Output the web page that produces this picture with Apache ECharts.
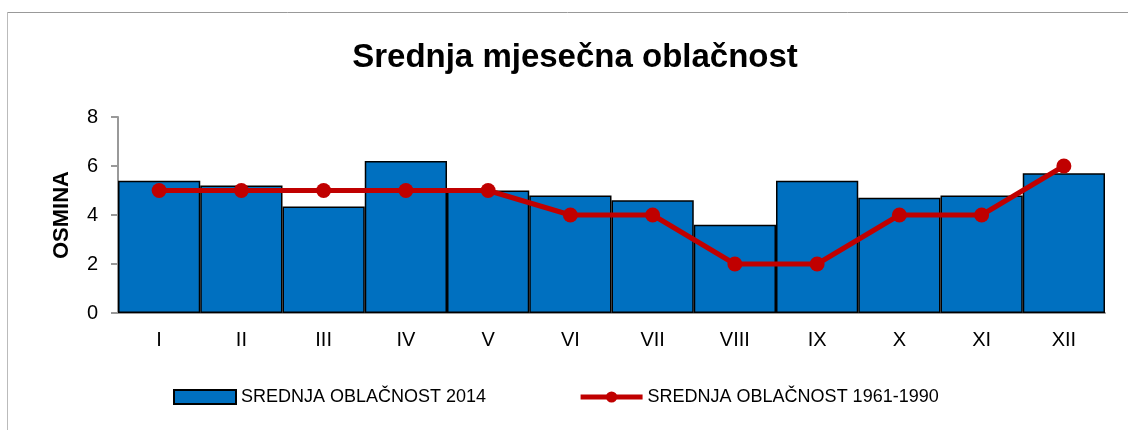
<!DOCTYPE html>
<html><head><meta charset="utf-8">
<script src="https://cdn.jsdelivr.net/npm/echarts@6/dist/echarts.min.js"></script>
<style>html,body{margin:0;padding:0;background:#fff}#c{width:1128px;height:430px}</style>
</head><body><div id="c"></div>
<script>
const categories = ['I','II','III','IV','V','VI','VII','VIII','IX','X','XI','XII'];
const values2014 = [5.4, 5.2, 4.35, 6.2, 5.0, 4.8, 4.6, 3.6, 5.4, 4.7, 4.8, 5.7];
const values1961_1990 = [5, 5, 5, 5, 5, 4, 4, 2, 2, 4, 4, 6];
const yTicks = [0, 2, 4, 6, 8];
const seriesNames = ['SREDNJA OBLAČNOST 2014', 'SREDNJA OBLAČNOST 1961-1990'];

const chart = echarts.init(document.getElementById('c'));
const font = 'Liberation Sans, Arial, sans-serif';
chart.setOption({
  animation: false,
  textStyle: { fontFamily: font },
  title: {
    text: 'Srednja mjesečna oblačnost', left: 570, textAlign: 'center', top: 36,
    textStyle: { fontSize: 33, fontWeight: 'bold', color: '#000', fontFamily: font }
  },
  graphic: [
    { type: 'line', shape: { x1: 7, y1: 12.5, x2: 1128, y2: 12.5 }, style: { stroke: '#999', lineWidth: 1 } },
    { type: 'line', shape: { x1: 7.5, y1: 12, x2: 7.5, y2: 430 }, style: { stroke: '#bbb', lineWidth: 1 } }
  ],
  grid: { left: 118, right: 23, top: 117, bottom: 117, containLabel: false },
  legend: {
    left: 168, top: 383, itemGap: 92, itemWidth: 62, itemHeight: 14,
    textStyle: { fontSize: 18, color: '#000', fontFamily: font },
    data: [
      { name: seriesNames[0], icon: 'rect', itemStyle: { borderColor: '#000', borderWidth: 2 } },
      { name: seriesNames[1], lineStyle: { width: 5, color: '#C00000' } }
    ]
  },
  xAxis: {
    type: 'category', data: categories,
    axisLine: { lineStyle: { color: '#999', width: 2 } },
    axisTick: { show: false },
    axisLabel: { fontSize: 20, color: '#000', margin: 17 }
  },
  yAxis: {
    type: 'value', min: yTicks[0], max: yTicks[yTicks.length - 1], interval: 2,
    name: 'OSMINA', nameLocation: 'middle', nameGap: 45, nameRotate: 90,
    nameTextStyle: { fontSize: 22, fontWeight: 'bold', color: '#000', fontFamily: font },
    axisLine: { show: true, lineStyle: { color: '#999', width: 2 } },
    axisTick: { show: true, length: 7, lineStyle: { color: '#999', width: 2 } },
    axisLabel: { fontSize: 20, color: '#000', margin: 20 },
    splitLine: { show: false }
  },
  series: [
    {
      name: seriesNames[0], type: 'bar', data: values2014,
      barCategoryGap: '0%', barWidth: '100%',
      itemStyle: { color: '#0070C0', borderColor: '#000', borderWidth: 1.5 }
    },
    {
      name: seriesNames[1], type: 'line', data: values1961_1990,
      symbol: 'circle', symbolSize: 15,
      lineStyle: { color: '#C00000', width: 5 },
      itemStyle: { color: '#C00000' }
    }
  ]
});
</script></body></html>
